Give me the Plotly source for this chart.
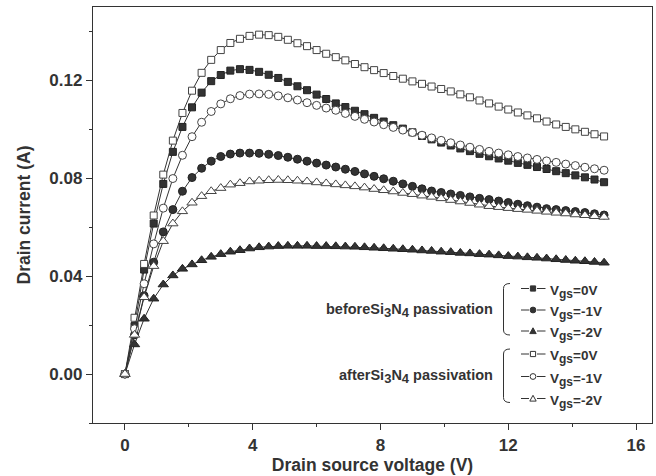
import plotly.graph_objects as go

voltage = [0.0, 0.3, 0.6, 0.9, 1.2, 1.5, 1.8, 2.1, 2.4, 2.7, 3.0, 3.3, 3.6, 3.9, 4.2, 4.5, 4.8,
           5.1, 5.4, 5.7, 6.0, 6.3, 6.6, 6.9, 7.2, 7.5, 7.8, 8.1, 8.4, 8.7, 9.0, 9.3, 9.6, 9.9,
           10.2, 10.5, 10.8, 11.1, 11.4, 11.7, 12.0, 12.3, 12.6, 12.9, 13.2, 13.5, 13.8, 14.1,
           14.4, 14.7, 15.0]

before_vgs0 = [0, 0.0196, 0.0427, 0.0615, 0.0777, 0.0908, 0.101, 0.109, 0.115, 0.1197, 0.1222,
               0.124, 0.1246, 0.1243, 0.1235, 0.1223, 0.121, 0.1194, 0.1176, 0.116, 0.1142,
               0.1124, 0.1106, 0.1091, 0.1076, 0.1062, 0.1047, 0.1032, 0.1017, 0.1003, 0.0988,
               0.0973, 0.0959, 0.0946, 0.0934, 0.0922, 0.0911, 0.0900, 0.0890, 0.0881, 0.0872,
               0.0863, 0.0855, 0.0846, 0.0838, 0.0829, 0.0821, 0.0812, 0.0804, 0.0795, 0.0784]
before_vgs1 = [0, 0.016, 0.032, 0.0457, 0.0581, 0.0672, 0.0747, 0.0803, 0.0841, 0.087, 0.0889,
               0.0899, 0.0903, 0.0903, 0.0902, 0.0898, 0.0893, 0.0886, 0.0878, 0.087, 0.0862,
               0.0854, 0.0846, 0.0837, 0.0828, 0.0818, 0.0808, 0.0798, 0.0788, 0.0777, 0.0767,
               0.0757, 0.0748, 0.0742, 0.0736, 0.073, 0.0724, 0.0718, 0.0713, 0.0707, 0.0701,
               0.0694, 0.0688, 0.0682, 0.0676, 0.0672, 0.0668, 0.0664, 0.066, 0.0655, 0.065]
before_vgs2 = [0, 0.0121, 0.0226, 0.0308, 0.0366, 0.0403, 0.043, 0.0448, 0.0465, 0.0479, 0.049,
               0.05, 0.0506, 0.0513, 0.0518, 0.0521, 0.0523, 0.0524, 0.0524, 0.0524, 0.0523,
               0.0523, 0.0522, 0.0521, 0.052, 0.0518, 0.0516, 0.0514, 0.0512, 0.051, 0.0508,
               0.0505, 0.0503, 0.05, 0.0498, 0.0495, 0.0493, 0.049, 0.0488, 0.0485, 0.0482,
               0.048, 0.0477, 0.0475, 0.0472, 0.0469, 0.0466, 0.0463, 0.0461, 0.0458, 0.0455]
after_vgs0 = [0, 0.023, 0.045, 0.0648, 0.0815, 0.0954, 0.1067, 0.1158, 0.1231, 0.1284, 0.1324,
              0.1353, 0.137, 0.1382, 0.1387, 0.1385, 0.1378, 0.1366, 0.1352, 0.134, 0.1324,
              0.1309, 0.1295, 0.1282, 0.1267, 0.1254, 0.1242, 0.123, 0.1218, 0.1207, 0.1196,
              0.1186, 0.1175, 0.1165, 0.1155, 0.1143, 0.1131, 0.1118, 0.1106, 0.1093, 0.1081,
              0.1069, 0.1057, 0.1045, 0.1032, 0.102, 0.101, 0.1, 0.099, 0.098, 0.0971]
after_vgs1 = [0, 0.0185, 0.0369, 0.0532, 0.0678, 0.0799, 0.0894, 0.097, 0.1029, 0.1073, 0.1104,
              0.1125, 0.1138, 0.1144, 0.1145, 0.1143, 0.1137, 0.1129, 0.112, 0.1109, 0.1098,
              0.1087, 0.1078, 0.1065, 0.1053, 0.1041, 0.103, 0.1019, 0.1008, 0.0997, 0.0987,
              0.0976, 0.0965, 0.0955, 0.0945, 0.0936, 0.0927, 0.0918, 0.091, 0.0903, 0.0896,
              0.0889, 0.0883, 0.0877, 0.0871, 0.0865, 0.0858, 0.0852, 0.0845, 0.0839, 0.0833]
after_vgs2 = [0, 0.016, 0.0314, 0.0441, 0.0543, 0.0615, 0.0665, 0.07, 0.0727, 0.0747, 0.076,
              0.0774, 0.078, 0.0787, 0.079, 0.0792, 0.0793, 0.0792, 0.079, 0.0787, 0.0783,
              0.0779, 0.0775, 0.0771, 0.0767, 0.0762, 0.0756, 0.0751, 0.0746, 0.074, 0.0735,
              0.0729, 0.0724, 0.0718, 0.0711, 0.0705, 0.0699, 0.0692, 0.0686, 0.0682, 0.0678,
              0.0674, 0.0671, 0.0667, 0.0663, 0.0659, 0.0656, 0.0652, 0.0649, 0.0645, 0.0642]

x_ticks = [0, 4, 8, 12, 16]
y_ticks = [0.00, 0.04, 0.08, 0.12]
x_tick_labels = ["0", "4", "8", "12", "16"]
y_tick_labels = ["0.00", "0.04", "0.08", "0.12"]

SUB = '<sub><span style="font-size:{}px">{}</span></sub>'
group_labels = ["beforeSi" + SUB.format(13, "3") + "N" + SUB.format(13, "4") + " passivation",
                "afterSi" + SUB.format(13, "3") + "N" + SUB.format(13, "4") + " passivation"]
entry_labels = ["V" + SUB.format(12, "gs") + "=0V",
                "V" + SUB.format(12, "gs") + "=-1V",
                "V" + SUB.format(12, "gs") + "=-2V"]
entry_symbols = ["square", "circle", "triangle"]

INK = "#333333"
FONT = "Liberation Sans, Arial, sans-serif"

W, H = 656, 476
L, R, T, B = 93, 4, 7, 53
PW, PH = W - L - R, H - T - B


def px(x):
    return (x - L) / PW


def py(y):
    return (H - B - y) / PH


fig = go.Figure()

series = [
    (before_vgs0, "square", INK, 7),
    (before_vgs1, "circle", INK, 8),
    (before_vgs2, "triangle-up", INK, 9),
    (after_vgs0, "square", "white", 7),
    (after_vgs1, "circle", "white", 8),
    (after_vgs2, "triangle-up", "white", 9),
]
for ys, sym, fill, size in series:
    fig.add_trace(go.Scatter(
        x=voltage, y=ys, mode="lines+markers",
        line=dict(color=INK, width=1),
        marker=dict(symbol=sym, size=size, color=fill,
                    line=dict(color="#222222" if fill != "white" else "#444444", width=1)),
        showlegend=False, hoverinfo="skip"))

annotations = []
shapes = []

group_rows = [[288.5, 310, 331], [354, 376.5, 398.5]]
group_label_y = [310, 376]
group_fill = [INK, "white"]


def legend_symbol(kind, cx, cy, fill):
    r = 2.6
    common = dict(xref="paper", yref="paper", line=dict(color=INK, width=1), fillcolor=fill,
                  layer="above")
    if kind == "square":
        return dict(type="rect", x0=px(cx - r), x1=px(cx + r), y0=py(cy + r), y1=py(cy - r),
                    **common)
    if kind == "circle":
        return dict(type="circle", x0=px(cx - r - 0.3), x1=px(cx + r + 0.3),
                    y0=py(cy + r + 0.3), y1=py(cy - r - 0.3), **common)
    path = (f"M {px(cx - r - 0.6)} {py(cy + r)} L {px(cx + r + 0.6)} {py(cy + r)} "
            f"L {px(cx)} {py(cy - r - 0.6)} Z")
    return dict(type="path", path=path, **common)


for g in range(2):
    rows = group_rows[g]
    annotations.append(dict(
        x=px(495), y=py(group_label_y[g]), xref="paper", yref="paper",
        xanchor="right", yanchor="middle", showarrow=False,
        text="<b>" + group_labels[g] + "</b>",
        font=dict(family=FONT, size=14.5, color=INK)))
    for i, yy in enumerate(rows):
        for xa, xb in [(521, 529), (537, 545.5)]:
            shapes.append(dict(type="line", xref="paper", yref="paper",
                               x0=px(xa), x1=px(xb), y0=py(yy), y1=py(yy),
                               line=dict(color=INK, width=1)))
        shapes.append(legend_symbol(entry_symbols[i], 533, yy, group_fill[g]))
        annotations.append(dict(
            x=px(548), y=py(yy + 3), xref="paper", yref="paper",
            xanchor="left", yanchor="middle", showarrow=False,
            text="<b>" + entry_labels[i] + "</b>",
            font=dict(family=FONT, size=13.5, color=INK)))
    top, bot = rows[0] - 5, rows[-1] + 4
    xa, xb = px(510), px(503.5)
    path = (f"M {xa} {py(top)} Q {xb} {py(top)} {xb} {py(top + 5)} "
            f"L {xb} {py(bot - 5)} Q {xb} {py(bot)} {xa} {py(bot)}")
    shapes.append(dict(type="path", xref="paper", yref="paper", path=path,
                       line=dict(color=INK, width=1)))

fig.update_layout(
    width=W, height=H,
    margin=dict(l=L, r=R, t=T, b=B, pad=0),
    paper_bgcolor="white", plot_bgcolor="white",
    font=dict(family=FONT, color=INK, size=17),
    annotations=annotations, shapes=shapes,
    xaxis=dict(
        range=[-1, 16.5], tickvals=x_ticks, ticktext=x_tick_labels,
        ticks="outside", ticklen=6, tickwidth=1.2, tickcolor=INK,
        minor=dict(dtick=2, tick0=0, ticks="outside", ticklen=3, tickwidth=1.2, tickcolor=INK),
        showline=True, linecolor=INK, linewidth=1.3, mirror=True,
        showgrid=False, zeroline=False,
        tickfont=dict(family=FONT, size=17, color=INK, weight="bold"),
        title=dict(text="<b>Drain source voltage (V)</b>", standoff=4,
                   font=dict(family=FONT, size=17.5, color=INK)),
    ),
    yaxis=dict(
        range=[-0.02, 0.15], tickvals=y_ticks, ticktext=y_tick_labels,
        ticks="outside", ticklen=6, tickwidth=1.2, tickcolor=INK,
        minor=dict(dtick=0.02, tick0=0, ticks="outside", ticklen=3, tickwidth=1.2, tickcolor=INK),
        showline=True, linecolor=INK, linewidth=1.3, mirror=True,
        showgrid=False, zeroline=False,
        tickfont=dict(family=FONT, size=17, color=INK, weight="bold"),
        title=dict(text="<b>Drain current (A)</b>", standoff=14,
                   font=dict(family=FONT, size=17.5, color=INK)),
    ),
)

fig.write_html("out.html")
